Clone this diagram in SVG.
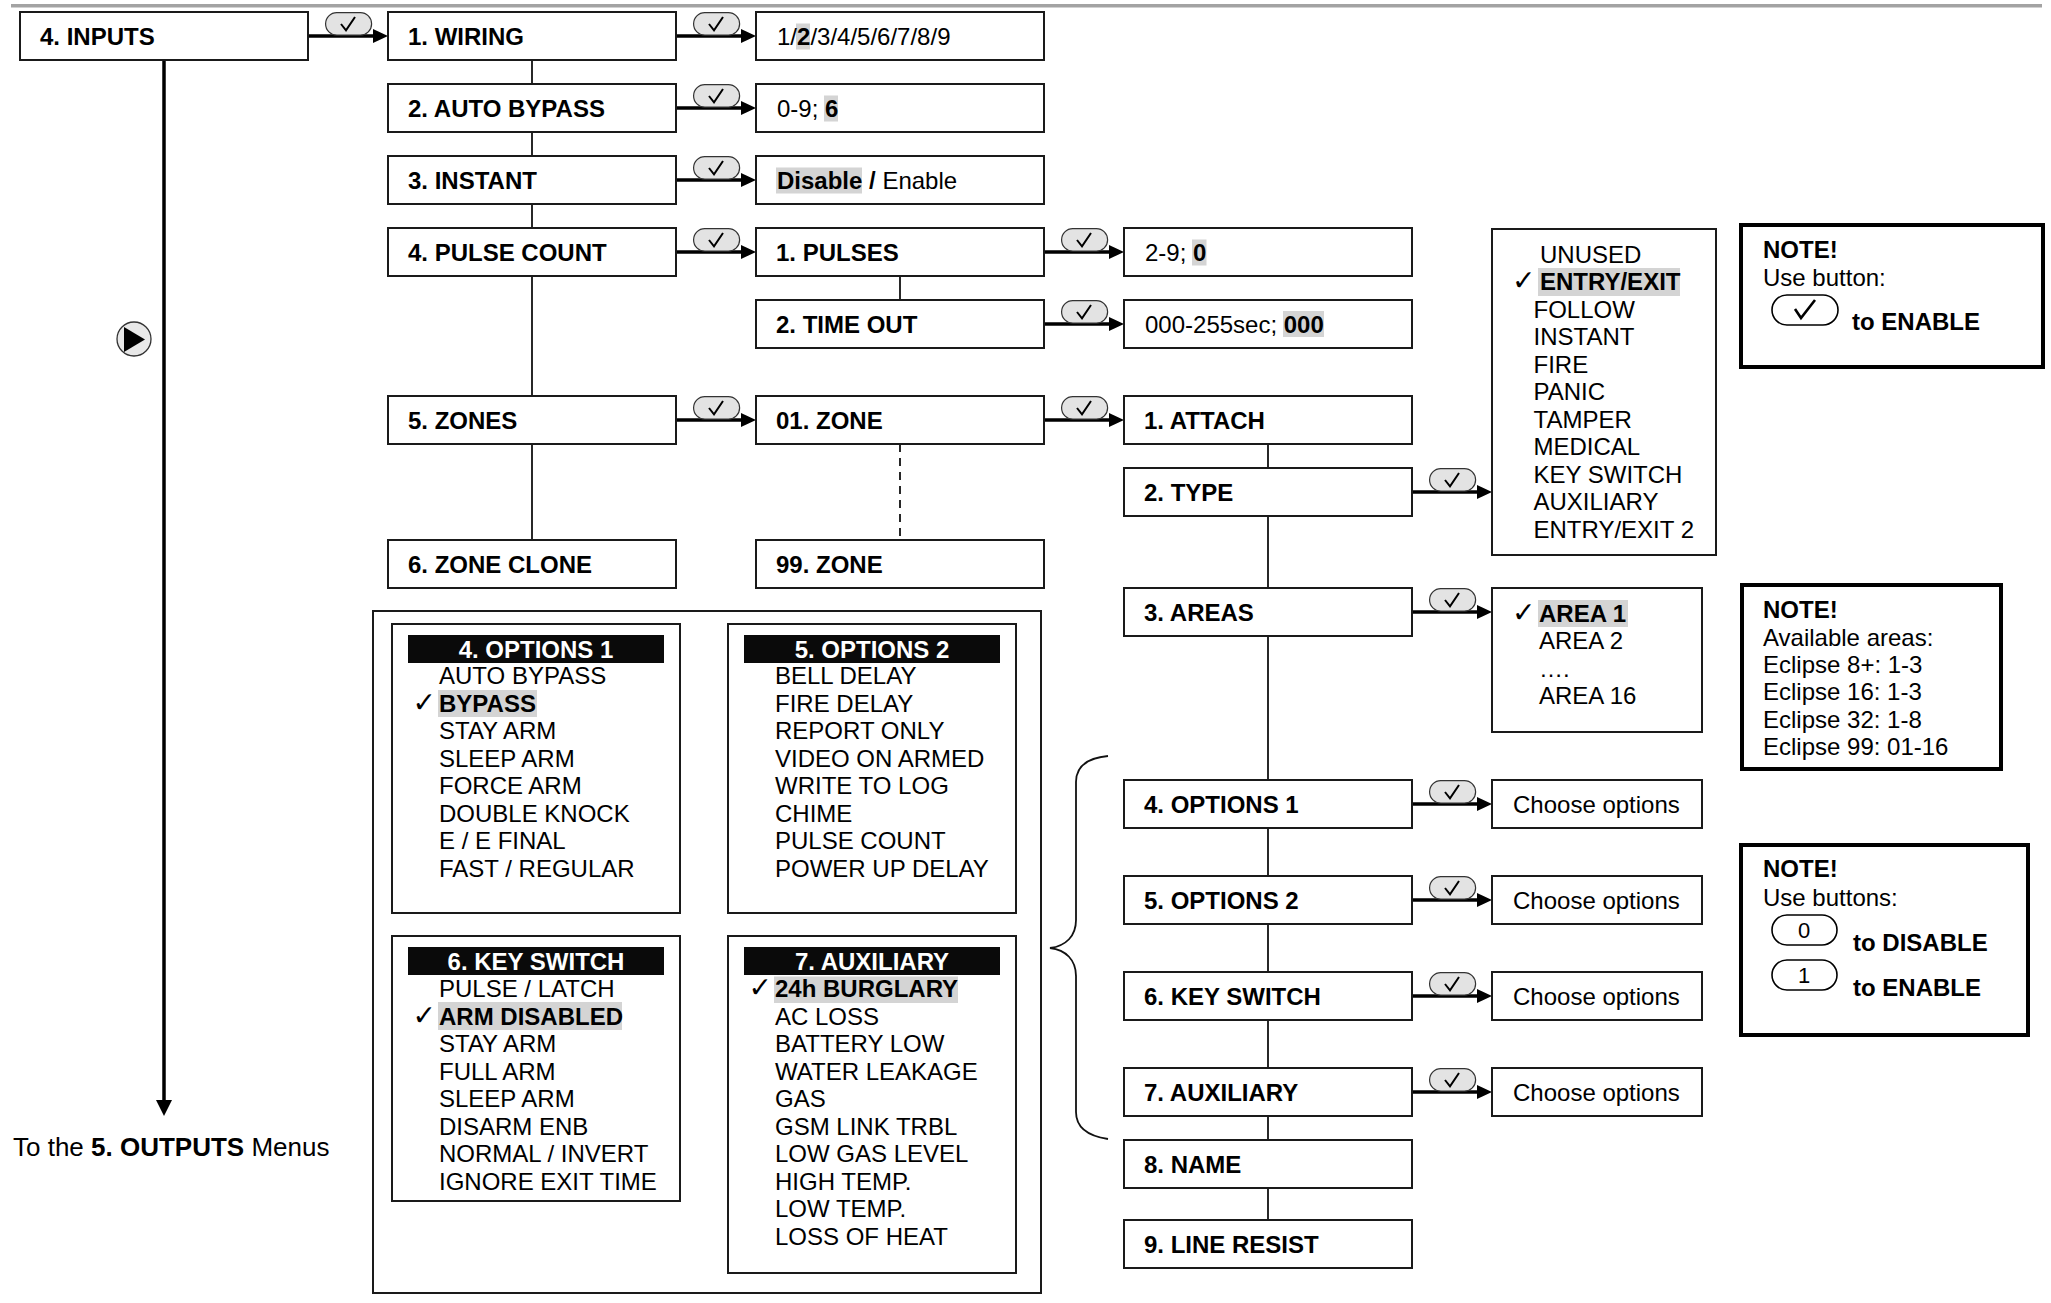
<svg xmlns="http://www.w3.org/2000/svg" width="2051" height="1303" viewBox="0 0 2051 1303">
<style>
.box{fill:#fff;stroke:#1a1a1a;stroke-width:2}
.note{fill:#fff;stroke:#000;stroke-width:4}
text{font-family:'Liberation Sans',Arial,Helvetica,sans-serif;font-size:24px;fill:#000}
.b{font-weight:bold}
.hl{fill:#d4d4d4}
.conn{stroke:#111;stroke-width:1.8;fill:none}
.arr{stroke:#000;stroke-width:3.5;fill:none}
.ck{font-family:'DejaVu Sans',sans-serif;font-size:28px}
.hdr{fill:#0a0a0a}
.ht{fill:#fff;font-weight:bold;text-anchor:middle}
</style>
<defs>
<marker id="ah" markerUnits="userSpaceOnUse" markerWidth="16" markerHeight="14" refX="3" refY="7" orient="auto" overflow="visible"><path d="M0,0 L15,7 L0,14 z" fill="#000"/></marker>
<g id="pill"><rect x="0.6" y="0.6" width="46" height="22.5" rx="11.2" fill="#e3e3e3" stroke="#333" stroke-width="1.2"/><path d="M16 12 L21 18.3 L30 5" fill="none" stroke="#000" stroke-width="2"/></g>
</defs>
<rect width="2051" height="1303" fill="#fff"/>
<line x1="11" y1="5.7" x2="2042" y2="5.7" stroke="#a3a3a3" stroke-width="3.5"/>

<g id="connectors">
<line class="conn" x1="532" y1="36" x2="532" y2="564"/>
<line class="conn" x1="900" y1="276" x2="900" y2="300"/>
<line class="conn" x1="900" y1="444" x2="900" y2="540" stroke-dasharray="8 6"/>
<line class="conn" x1="1268" y1="444" x2="1268" y2="1220"/>
<path class="arr" d="M164 60 V1102"/>
<path d="M156 1100 L172 1100 L164 1116 z" fill="#000"/>
<path class="arr" d="M308 36 H376" marker-end="url(#ah)"/>
<path class="arr" d="M676 36 H744" marker-end="url(#ah)"/>
<path class="arr" d="M676 108 H744" marker-end="url(#ah)"/>
<path class="arr" d="M676 180 H744" marker-end="url(#ah)"/>
<path class="arr" d="M676 252 H744" marker-end="url(#ah)"/>
<path class="arr" d="M1044 252 H1112" marker-end="url(#ah)"/>
<path class="arr" d="M1044 324 H1112" marker-end="url(#ah)"/>
<path class="arr" d="M676 420 H744" marker-end="url(#ah)"/>
<path class="arr" d="M1044 420 H1112" marker-end="url(#ah)"/>
<path class="arr" d="M1412 492 H1480" marker-end="url(#ah)"/>
<path class="arr" d="M1412 612 H1480" marker-end="url(#ah)"/>
<path class="arr" d="M1412 804 H1480" marker-end="url(#ah)"/>
<path class="arr" d="M1412 900 H1480" marker-end="url(#ah)"/>
<path class="arr" d="M1412 996 H1480" marker-end="url(#ah)"/>
<path class="arr" d="M1412 1092 H1480" marker-end="url(#ah)"/>
<use href="#pill" x="325" y="12"/>
<use href="#pill" x="693" y="12"/>
<use href="#pill" x="693" y="84"/>
<use href="#pill" x="693" y="156"/>
<use href="#pill" x="693" y="228"/>
<use href="#pill" x="1061" y="228"/>
<use href="#pill" x="1061" y="300"/>
<use href="#pill" x="693" y="396"/>
<use href="#pill" x="1061" y="396"/>
<use href="#pill" x="1429" y="468"/>
<use href="#pill" x="1429" y="588"/>
<use href="#pill" x="1429" y="780"/>
<use href="#pill" x="1429" y="876"/>
<use href="#pill" x="1429" y="972"/>
<use href="#pill" x="1429" y="1068"/>
<path class="conn" d="M1108 756 C1088 758 1076 766 1076 782 V920 C1076 936 1066 946 1050 948 C1066 950 1076 960 1076 976 V1112 C1076 1128 1088 1136 1108 1139" stroke-width="1.6"/>
</g>

<g id="play">
<circle cx="134" cy="339" r="17" fill="#e8e8e8" stroke="#333" stroke-width="1.3"/>
<path d="M124 327 L124 352 L145 339.5 z" fill="#000"/>
</g>
<g id="outputs-label"><text x="13" y="1156" style="font-size:26px">To the <tspan class="b">5. OUTPUTS</tspan> Menus</text></g>

<g id="n-inputs"><rect class="box" x="20" y="12" width="288" height="48"/><text class="b" x="40" y="45">4. INPUTS</text></g>
<g id="n-wiring"><rect class="box" x="388" y="12" width="288" height="48"/><text class="b" x="408" y="45">1. WIRING</text></g>
<g id="n-autobypass"><rect class="box" x="388" y="84" width="288" height="48"/><text class="b" x="408" y="117">2. AUTO BYPASS</text></g>
<g id="n-instant"><rect class="box" x="388" y="156" width="288" height="48"/><text class="b" x="408" y="189">3. INSTANT</text></g>
<g id="n-pulsecount"><rect class="box" x="388" y="228" width="288" height="48"/><text class="b" x="408" y="261">4. PULSE COUNT</text></g>
<g id="n-zones"><rect class="box" x="388" y="396" width="288" height="48"/><text class="b" x="408" y="429">5. ZONES</text></g>
<g id="n-zoneclone"><rect class="box" x="388" y="540" width="288" height="48"/><text class="b" x="408" y="573">6. ZONE CLONE</text></g>

<g id="v-wiring"><rect class="box" x="756" y="12" width="288" height="48"/><rect class="hl" x="796" y="23.5" width="14" height="26"/><text x="777" y="45">1/<tspan class="b">2</tspan>/3/4/5/6/7/8/9</text></g>
<g id="v-autobypass"><rect class="box" x="756" y="84" width="288" height="48"/><rect class="hl" x="824" y="95.5" width="14" height="26"/><text x="777" y="117">0-9; <tspan class="b">6</tspan></text></g>
<g id="v-instant"><rect class="box" x="756" y="156" width="288" height="48"/><rect class="hl" x="776" y="167.5" width="86" height="26"/><text x="777" y="189"><tspan class="b">Disable /</tspan> Enable</text></g>
<g id="n-pulses"><rect class="box" x="756" y="228" width="288" height="48"/><text class="b" x="776" y="261">1. PULSES</text></g>
<g id="n-timeout"><rect class="box" x="756" y="300" width="288" height="48"/><text class="b" x="776" y="333">2. TIME OUT</text></g>
<g id="n-zone01"><rect class="box" x="756" y="396" width="288" height="48"/><text class="b" x="776" y="429">01. ZONE</text></g>
<g id="n-zone99"><rect class="box" x="756" y="540" width="288" height="48"/><text class="b" x="776" y="573">99. ZONE</text></g>

<g id="v-pulses"><rect class="box" x="1124" y="228" width="288" height="48"/><rect class="hl" x="1192" y="239.5" width="14.5" height="26"/><text x="1145" y="261">2-9; <tspan class="b">0</tspan></text></g>
<g id="v-timeout"><rect class="box" x="1124" y="300" width="288" height="48"/><rect class="hl" x="1283" y="311" width="41" height="26"/><text x="1145" y="333">000-255sec; <tspan class="b">000</tspan></text></g>
<g id="n-attach"><rect class="box" x="1124" y="396" width="288" height="48"/><text class="b" x="1144" y="429">1. ATTACH</text></g>
<g id="n-type"><rect class="box" x="1124" y="468" width="288" height="48"/><text class="b" x="1144" y="501">2. TYPE</text></g>
<g id="n-areas"><rect class="box" x="1124" y="588" width="288" height="48"/><text class="b" x="1144" y="621">3. AREAS</text></g>
<g id="n-options1"><rect class="box" x="1124" y="780" width="288" height="48"/><text class="b" x="1144" y="813">4. OPTIONS 1</text></g>
<g id="n-options2"><rect class="box" x="1124" y="876" width="288" height="48"/><text class="b" x="1144" y="909">5. OPTIONS 2</text></g>
<g id="n-keyswitch"><rect class="box" x="1124" y="972" width="288" height="48"/><text class="b" x="1144" y="1005">6. KEY SWITCH</text></g>
<g id="n-auxiliary"><rect class="box" x="1124" y="1068" width="288" height="48"/><text class="b" x="1144" y="1101">7. AUXILIARY</text></g>
<g id="n-name"><rect class="box" x="1124" y="1140" width="288" height="48"/><text class="b" x="1144" y="1173">8. NAME</text></g>
<g id="n-lineresist"><rect class="box" x="1124" y="1220" width="288" height="48"/><text class="b" x="1144" y="1253">9. LINE RESIST</text></g>

<g id="c-options1"><rect class="box" x="1492" y="780" width="210" height="48"/><text x="1513" y="813">Choose options</text></g>
<g id="c-options2"><rect class="box" x="1492" y="876" width="210" height="48"/><text x="1513" y="909">Choose options</text></g>
<g id="c-keyswitch"><rect class="box" x="1492" y="972" width="210" height="48"/><text x="1513" y="1005">Choose options</text></g>
<g id="c-auxiliary"><rect class="box" x="1492" y="1068" width="210" height="48"/><text x="1513" y="1101">Choose options</text></g>

<g id="typelist">
<rect class="box" x="1492" y="229" width="224" height="326"/>
<rect class="hl" x="1538" y="268" width="142" height="28"/>
<text x="1540" y="262.7">UNUSED</text>
<text class="ck" x="1512" y="290.2">✓</text><text class="b" x="1540" y="290.2">ENTRY/EXIT</text>
<text x="1533.5" y="317.7">FOLLOW</text>
<text x="1533.5" y="345.2">INSTANT</text>
<text x="1533.5" y="372.7">FIRE</text>
<text x="1533.5" y="400.2">PANIC</text>
<text x="1533.5" y="427.7">TAMPER</text>
<text x="1533.5" y="455.2">MEDICAL</text>
<text x="1533.5" y="482.7">KEY SWITCH</text>
<text x="1533.5" y="510.2">AUXILIARY</text>
<text x="1533.5" y="537.7">ENTRY/EXIT 2</text>
</g>

<g id="arealist">
<rect class="box" x="1492" y="588" width="210" height="144"/>
<rect class="hl" x="1538" y="600" width="90" height="27"/>
<text class="ck" x="1512" y="621.7">✓</text><text class="b" x="1539" y="621.7">AREA 1</text>
<text x="1539" y="649">AREA 2</text>
<text x="1539" y="676.5">….</text>
<text x="1539" y="704">AREA 16</text>
</g>

<g id="note1">
<rect class="note" x="1741" y="225" width="302" height="142"/>
<text class="b" x="1763" y="258">NOTE!</text>
<text x="1763" y="286">Use button:</text>
<rect x="1772" y="295" width="66" height="30" rx="15" fill="#fff" stroke="#000" stroke-width="1.6"/>
<path d="M1795 309 L1801 318 L1815 300" fill="none" stroke="#000" stroke-width="2.6"/>
<text class="b" x="1852" y="330">to ENABLE</text>
</g>

<g id="note2">
<rect class="note" x="1742" y="585" width="259" height="184"/>
<text class="b" x="1763" y="618">NOTE!</text>
<text x="1763" y="645.5">Available areas:</text>
<text x="1763" y="673">Eclipse 8+: 1-3</text>
<text x="1763" y="700">Eclipse 16: 1-3</text>
<text x="1763" y="727.5">Eclipse 32: 1-8</text>
<text x="1763" y="755">Eclipse 99: 01-16</text>
</g>

<g id="note3">
<rect class="note" x="1741" y="845" width="287" height="190"/>
<text class="b" x="1763" y="877">NOTE!</text>
<text x="1763" y="906">Use buttons:</text>
<rect x="1772" y="915" width="65" height="30" rx="15" fill="#fff" stroke="#000" stroke-width="1.6"/>
<text x="1804" y="938" text-anchor="middle" style="font-size:22px">0</text>
<text class="b" x="1853" y="951">to DISABLE</text>
<rect x="1772" y="960" width="65" height="30" rx="15" fill="#fff" stroke="#000" stroke-width="1.6"/>
<text x="1804" y="983" text-anchor="middle" style="font-size:22px">1</text>
<text class="b" x="1853" y="996">to ENABLE</text>
</g>

<g id="options-panel">
<rect class="box" x="373" y="611" width="668" height="682"/>
</g>

<g id="opt1">
<rect class="box" x="392" y="624" width="288" height="289"/>
<rect class="hdr" x="408" y="635" width="256" height="28"/>
<text class="ht" x="536" y="658">4. OPTIONS 1</text>
<rect class="hl" x="438" y="690" width="99" height="27"/>
<text x="439" y="684">AUTO BYPASS</text>
<text class="ck" x="412.5" y="711.5">✓</text><text class="b" x="439" y="711.5">BYPASS</text>
<text x="439" y="739">STAY ARM</text>
<text x="439" y="766.5">SLEEP ARM</text>
<text x="439" y="794">FORCE ARM</text>
<text x="439" y="821.5">DOUBLE KNOCK</text>
<text x="439" y="849">E / E FINAL</text>
<text x="439" y="876.5">FAST / REGULAR</text>
</g>

<g id="opt2">
<rect class="box" x="728" y="624" width="288" height="289"/>
<rect class="hdr" x="744" y="635" width="256" height="28"/>
<text class="ht" x="872" y="658">5. OPTIONS 2</text>
<text x="775" y="684">BELL DELAY</text>
<text x="775" y="711.5">FIRE DELAY</text>
<text x="775" y="739">REPORT ONLY</text>
<text x="775" y="766.5">VIDEO ON ARMED</text>
<text x="775" y="794">WRITE TO LOG</text>
<text x="775" y="821.5">CHIME</text>
<text x="775" y="849">PULSE COUNT</text>
<text x="775" y="876.5">POWER UP DELAY</text>
</g>

<g id="opt-keyswitch">
<rect class="box" x="392" y="936" width="288" height="265"/>
<rect class="hdr" x="408" y="947" width="256" height="28"/>
<text class="ht" x="536" y="970">6. KEY SWITCH</text>
<rect class="hl" x="438" y="1002" width="184" height="28"/>
<text x="439" y="997">PULSE / LATCH</text>
<text class="ck" x="412.5" y="1024.5">✓</text><text class="b" x="439" y="1024.5">ARM DISABLED</text>
<text x="439" y="1052">STAY ARM</text>
<text x="439" y="1079.5">FULL ARM</text>
<text x="439" y="1107">SLEEP ARM</text>
<text x="439" y="1134.5">DISARM ENB</text>
<text x="439" y="1162">NORMAL / INVERT</text>
<text x="439" y="1189.5">IGNORE EXIT TIME</text>
</g>

<g id="opt-auxiliary">
<rect class="box" x="728" y="936" width="288" height="337"/>
<rect class="hdr" x="744" y="947" width="256" height="28"/>
<text class="ht" x="872" y="970">7. AUXILIARY</text>
<rect class="hl" x="774" y="976.5" width="184" height="26.5"/>
<text class="ck" x="748.5" y="997">✓</text><text class="b" x="775" y="997">24h BURGLARY</text>
<text x="775" y="1024.5">AC LOSS</text>
<text x="775" y="1052">BATTERY LOW</text>
<text x="775" y="1079.5">WATER LEAKAGE</text>
<text x="775" y="1107">GAS</text>
<text x="775" y="1134.5">GSM LINK TRBL</text>
<text x="775" y="1162">LOW GAS LEVEL</text>
<text x="775" y="1189.5">HIGH TEMP.</text>
<text x="775" y="1217">LOW TEMP.</text>
<text x="775" y="1244.5">LOSS OF HEAT</text>
</g>
</svg>
